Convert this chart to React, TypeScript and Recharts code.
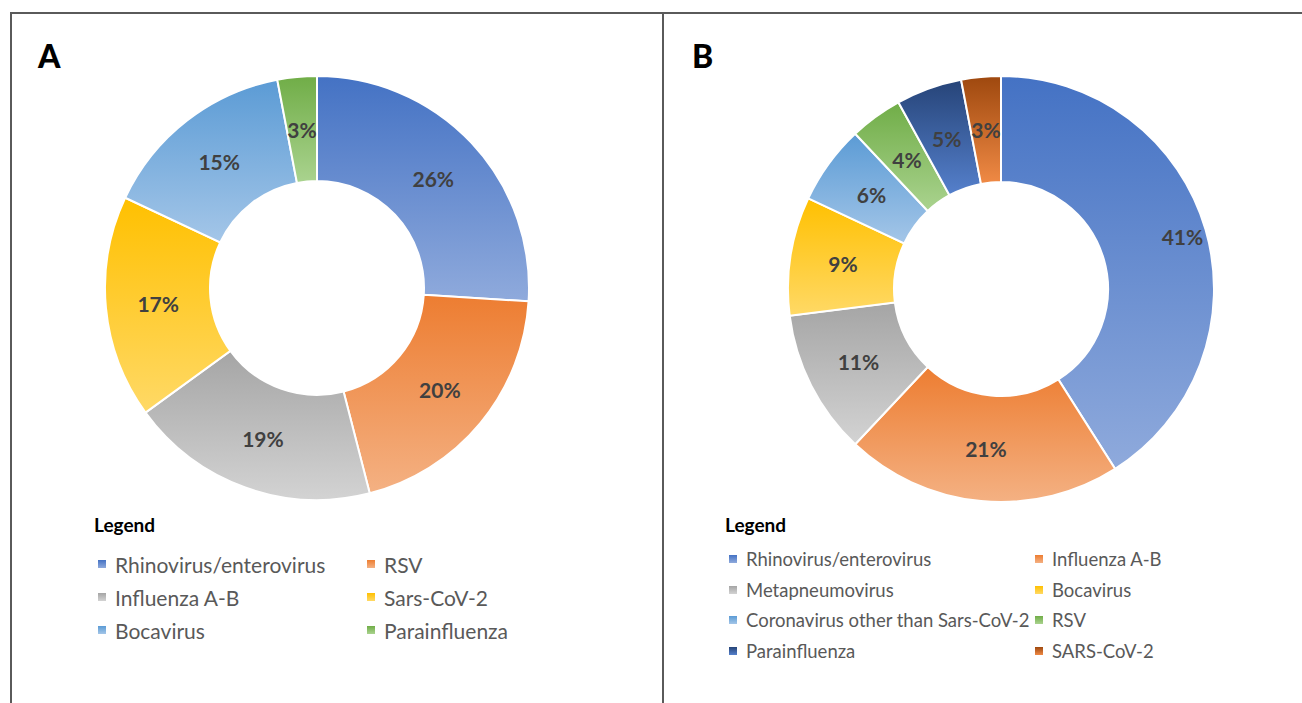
import React from "react";
import { PieChart, Pie, Cell } from "recharts";

const namesA = ["Rhinovirus/enterovirus", "RSV", "Influenza A-B", "Sars-CoV-2", "Bocavirus", "Parainfluenza"];
const valuesA = [26, 20, 19, 17, 15, 3];
const colorsA = ["blue", "orange", "gray", "gold", "lightblue", "green"];

const namesB = [
  "Rhinovirus/enterovirus",
  "Influenza A-B",
  "Metapneumovirus",
  "Bocavirus",
  "Coronavirus other than Sars-CoV-2",
  "RSV",
  "Parainfluenza",
  "SARS-CoV-2",
];
const valuesB = [41, 21, 11, 9, 6, 4, 5, 3];
const colorsB = ["blue", "orange", "gray", "gold", "lightblue", "green", "darkblue", "darkorange"];

const palette: Record<string, [string, string]> = {
  blue: ["#4472C4", "#8FAADC"],
  orange: ["#ED7D31", "#F4B183"],
  gray: ["#A5A5A5", "#D3D3D3"],
  gold: ["#FFC000", "#FFD966"],
  lightblue: ["#5B9BD5", "#A4C6E8"],
  green: ["#70AD47", "#AAD38F"],
  darkblue: ["#264478", "#5580CC"],
  darkorange: ["#9E480E", "#F08A45"],
};

const dataA = namesA.map((n, i) => ({ name: n, value: valuesA[i], color: colorsA[i] }));
const dataB = namesB.map((n, i) => ({ name: n, value: valuesB[i], color: colorsB[i] }));

// label radius tweak (style only) for the big slice of chart B
const labelPushB: Record<number, number> = { 0: 29 };

const RAD = Math.PI / 180;
const makeLabel = (push: Record<number, number>) => (p: any) => {
  const r = (p.innerRadius + p.outerRadius) / 2 + (push[p.index] || 0);
  const x = p.cx + r * Math.cos(-p.midAngle * RAD);
  const y = p.cy + r * Math.sin(-p.midAngle * RAD);
  return (
    <text
      x={x}
      y={y}
      textAnchor="middle"
      dominantBaseline="central"
      fill="#404040"
      fontFamily="Lato"
      fontWeight={700}
      fontSize={21}
    >
      {p.value}%
    </text>
  );
};

const LegendBox = ({
  data,
  left,
  top,
  rowGap,
  colGap,
  fontSize,
  headTop,
}: any) => (
  <>
    <div
      style={{
        position: "absolute",
        left,
        top: headTop,
        fontFamily: "Lato",
        fontWeight: 700,
        fontSize: 19,
        color: "#000",
        lineHeight: "24px",
      }}
    >
      Legend
    </div>
    {data.map((d: any, i: number) => {
      const row = Math.floor(i / 2);
      const col = i % 2;
      return (
        <div
          key={d.name}
          style={{
            position: "absolute",
            left: left + 4 + col * colGap,
            top: top + row * rowGap - 12,
            height: 24,
            display: "flex",
            alignItems: "center",
            fontFamily: "Lato",
            fontSize,
            color: "#595959",
            whiteSpace: "nowrap",
          }}
        >
          <span
            style={{
              display: "inline-block",
              width: 8,
              height: 8,
              marginRight: 9,
              background: `linear-gradient(${palette[d.color][0]}, ${palette[d.color][1]})`,
            }}
          />
          {d.name}
        </div>
      );
    })}
  </>
);

export default function App() {
  return (
    <div
      style={{
        position: "absolute",
        left: 0,
        top: 0,
        width: 1302,
        height: 703,
        background: "#fff",
        overflow: "hidden",
      }}
    >
      <PieChart
        width={1302}
        height={703}
        margin={{ top: 0, right: 0, bottom: 0, left: 0 }}
        style={{ position: "absolute", left: 0, top: 0 }}
      >
        <defs>
          {Object.keys(palette).map((k) => (
            <linearGradient key={k} id={`g-${k}`} x1="0" y1="0" x2="0" y2="1">
              <stop offset="0%" stopColor={palette[k][0]} />
              <stop offset="100%" stopColor={palette[k][1]} />
            </linearGradient>
          ))}
        </defs>
        <Pie
          data={dataA}
          dataKey="value"
          nameKey="name"
          cx={317}
          cy={288}
          innerRadius={107}
          outerRadius={212}
          startAngle={90}
          endAngle={-270}
          stroke="#fff"
          strokeWidth={2}
          label={makeLabel({})}
          labelLine={false}
          isAnimationActive={false}
        >
          {dataA.map((d) => (
            <Cell key={d.name} fill={`url(#g-${d.color})`} />
          ))}
        </Pie>
        <Pie
          data={dataB}
          dataKey="value"
          nameKey="name"
          cx={1001}
          cy={289}
          innerRadius={107}
          outerRadius={213}
          startAngle={90}
          endAngle={-270}
          stroke="#fff"
          strokeWidth={2}
          label={makeLabel(labelPushB)}
          labelLine={false}
          isAnimationActive={false}
        >
          {dataB.map((d) => (
            <Cell key={d.name} fill={`url(#g-${d.color})`} />
          ))}
        </Pie>
      </PieChart>

      <div style={{ position: "absolute", left: 10, top: 12, width: 1292, height: 2, background: "#5a5a5a" }} />
      <div style={{ position: "absolute", left: 10, top: 12, width: 2, height: 691, background: "#5a5a5a" }} />
      <div style={{ position: "absolute", left: 662, top: 12, width: 2, height: 691, background: "#5a5a5a" }} />

      <div
        style={{
          position: "absolute",
          left: 38,
          top: 36,
          fontFamily: "Lato",
          fontWeight: 900,
          fontSize: 32,
          lineHeight: "40px",
          color: "#000",
        }}
      >
        A
      </div>
      <div
        style={{
          position: "absolute",
          left: 692,
          top: 36,
          fontFamily: "Lato",
          fontWeight: 900,
          fontSize: 32,
          lineHeight: "40px",
          color: "#000",
        }}
      >
        B
      </div>

      <LegendBox data={dataA} left={94} headTop={513} top={564} rowGap={33} colGap={269} fontSize={21} />
      <LegendBox data={dataB} left={725} headTop={513} top={559} rowGap={30.5} colGap={306} fontSize={18.5} />
    </div>
  );
}
